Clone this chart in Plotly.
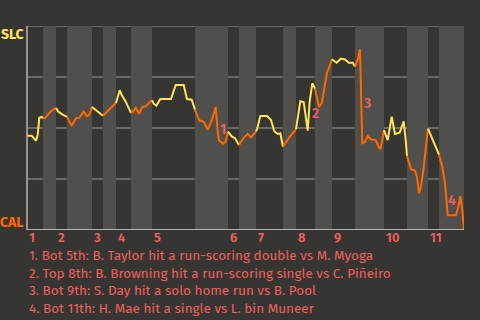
import plotly.graph_objects as go

# Game progress (0..437) and SLC win probability at each event
progress = [0.0, 4.7, 9.0, 10.7, 12.3, 14.7, 16.0, 18.0, 24.0, 29.0,
            31.3, 35.3, 40.0, 42.3, 44.7, 49.0, 52.3, 56.7, 60.0, 62.7,
            65.0, 66.7, 70.7, 74.0, 76.0, 79.3, 83.3, 87.3, 89.0, 92.7,
            94.7, 98.7, 104.0, 106.0, 108.7, 112.0, 115.3, 118.7, 122.7, 125.0,
            126.7, 129.3, 133.3, 144.0, 148.7, 156.7, 160.0, 164.7, 168.0, 172.0,
            176.7, 180.7, 185.3, 188.7, 190.7, 192.0, 196.0, 198.7, 201.0, 204.7,
            208.0, 212.0, 216.7, 220.7, 224.0, 229.0, 230.0, 233.3, 240.0, 244.0,
            247.3, 250.7, 253.3, 256.0, 262.7, 269.0, 270.7, 273.3, 276.7, 280.7,
            282.7, 285.3, 288.0, 292.0, 294.7, 300.0, 302.7, 305.0, 309.5, 314.0,
            318.0, 321.7, 325.7, 328.0, 331.0, 333.0, 333.7, 335.3, 338.0, 340.7,
            344.0, 348.7, 351.3, 353.3, 354.7, 357.0, 360.7, 364.7, 368.0, 372.7,
            376.7, 378.7, 380.0, 384.0, 388.0, 390.0, 392.0, 394.0, 396.7, 401.0,
            405.3, 412.0, 415.3, 418.0, 420.0, 420.7, 429.0, 431.3, 433.3, 435.5,
            437.0]
win_prob = [0.462, 0.462, 0.438, 0.466, 0.550, 0.554, 0.548, 0.550, 0.583, 0.598,
            0.580, 0.567, 0.554, 0.531, 0.511, 0.548, 0.550, 0.580, 0.557, 0.567,
            0.603, 0.597, 0.583, 0.570, 0.560, 0.577, 0.600, 0.616, 0.623, 0.685,
            0.662, 0.629, 0.574, 0.580, 0.600, 0.570, 0.603, 0.606, 0.626, 0.636,
            0.619, 0.609, 0.642, 0.642, 0.711, 0.711, 0.642, 0.639, 0.590, 0.538,
            0.531, 0.492, 0.544, 0.603, 0.485, 0.440, 0.423, 0.433, 0.482, 0.459,
            0.450, 0.417, 0.452, 0.471, 0.454, 0.484, 0.494, 0.559, 0.559, 0.539,
            0.484, 0.471, 0.474, 0.408, 0.457, 0.494, 0.559, 0.631, 0.627, 0.487,
            0.631, 0.719, 0.693, 0.604, 0.621, 0.771, 0.804, 0.837, 0.820, 0.840,
            0.836, 0.820, 0.820, 0.801, 0.840, 0.886, 0.775, 0.425, 0.431, 0.461,
            0.445, 0.441, 0.412, 0.396, 0.425, 0.490, 0.441, 0.555, 0.471, 0.477,
            0.533, 0.441, 0.363, 0.298, 0.291, 0.261, 0.180, 0.212, 0.310, 0.497,
            0.448, 0.369, 0.310, 0.229, 0.131, 0.072, 0.072, 0.114, 0.167, 0.088,
            0.0]

# Half-inning boundaries on the progress scale (top, bottom alternating)
half_bounds = [0, 16, 29, 40, 65, 76, 89, 104, 125, 168, 201, 212, 229,
               256, 269, 288, 305, 328, 357, 380, 401, 412, 437]
inning_labels = ["1", "2", "3", "4", "5", "6", "7", "8", "9", "10", "11"]

# Key plays
key_labels = ["1", "2", "3", "4"]
key_x = [195.7, 288.0, 340.3, 424.7]
key_y = [0.494, 0.569, 0.618, 0.144]
notes = [
    "1. Bot 5th: B. Taylor hit a run-scoring double vs M. Myoga",
    "2. Top 8th: B. Browning hit a run-scoring single vs C. Piñeiro",
    "3. Bot 9th: S. Day hit a solo home run vs B. Pool",
    "4. Bot 11th: H. Mae hit a single vs L. bin Muneer",
]

BG = "#373531"
BAND = "#504f4c"
GRID = "#7c7b78"
YELLOW = "#ffe45c"
ORANGE = "#ff6a00"
SALMON = "#f0605f"
FONT = "Fira Sans, Open Sans, sans-serif"

def half_index(xm):
    for i in range(len(half_bounds) - 1):
        if half_bounds[i] <= xm <= half_bounds[i + 1]:
            return i
    return len(half_bounds) - 2

fig = go.Figure()

# group consecutive segments by half-inning colour
segs = []
cur_color = None
for k in range(len(progress) - 1):
    xm = (progress[k] + progress[k + 1]) / 2
    col = YELLOW if half_index(xm) % 2 == 0 else ORANGE
    if col != cur_color:
        segs.append([col, [progress[k]], [win_prob[k]]])
        cur_color = col
    segs[-1][1].append(progress[k + 1])
    segs[-1][2].append(win_prob[k + 1])

for col, xs, ys in segs:
    fig.add_trace(go.Scatter(x=xs, y=ys, mode="lines",
                             line=dict(color=col, width=2),
                             hoverinfo="skip", showlegend=False))

shapes = []
for i in range(len(half_bounds) - 1):
    if i % 2 == 1:
        shapes.append(dict(type="rect", xref="x", yref="y",
                           x0=half_bounds[i], x1=half_bounds[i + 1], y0=0, y1=1,
                           fillcolor=BAND, line=dict(width=0), layer="below"))
for gy in [0.25, 0.5, 0.75, 1.0]:
    shapes.append(dict(type="line", xref="paper", yref="y", x0=0, x1=1,
                       y0=gy, y1=gy, line=dict(color=GRID, width=1.5), layer="below"))
shapes.append(dict(type="line", xref="paper", yref="y", x0=0, x1=1, y0=0, y1=0,
                   line=dict(color="#d8d8d8", width=1.5), layer="above"))
shapes.append(dict(type="line", xref="paper", yref="y", x0=0, x1=0, y0=0, y1=1,
                   line=dict(color="#b5b5b5", width=1.5), layer="above"))

ann = []
for j, lab in enumerate(inning_labels):
    ann.append(dict(x=half_bounds[2 * j], y=0, xref="x", yref="y", text=lab,
                    showarrow=False, xanchor="left", yanchor="top", yshift=2,
                    font=dict(family=FONT, size=13, color=SALMON, weight=600)))
for lab, kx, ky in zip(key_labels, key_x, key_y):
    ann.append(dict(x=kx, y=ky, xref="x", yref="y", text=lab, showarrow=False,
                    xanchor="center", yanchor="middle",
                    font=dict(family=FONT, size=14, color=SALMON, weight=600)))
for i, t in enumerate(notes):
    ann.append(dict(x=0, y=-0.124 - i * 0.0873, xref="paper", yref="paper", text=t,
                    showarrow=False, xanchor="left", yanchor="middle",
                    font=dict(family=FONT, size=13.5, color=SALMON)))
ann.append(dict(x=0, y=1, xref="paper", yref="paper", text="SLC", showarrow=False,
                xanchor="right", yanchor="top", xshift=-1, yshift=2,
                font=dict(family=FONT, size=14, color=YELLOW, weight=700)))
ann.append(dict(x=0, y=0, xref="paper", yref="paper", text="CAL", showarrow=False,
                xanchor="right", yanchor="bottom", xshift=-1, yshift=-3,
                font=dict(family=FONT, size=14, color=ORANGE, weight=700)))

fig.update_layout(
    width=480, height=320,
    margin=dict(l=27, r=16, t=26, b=90),
    paper_bgcolor=BG, plot_bgcolor=BG,
    xaxis=dict(range=[0, 437], showgrid=False, zeroline=False, showticklabels=False,
               showline=False, fixedrange=True),
    yaxis=dict(range=[0, 1], showgrid=False, zeroline=False, showticklabels=False,
               showline=False, fixedrange=True),
    shapes=shapes, annotations=ann, showlegend=False,
)

fig.write_html("out.html", config={"displayModeBar": False})
